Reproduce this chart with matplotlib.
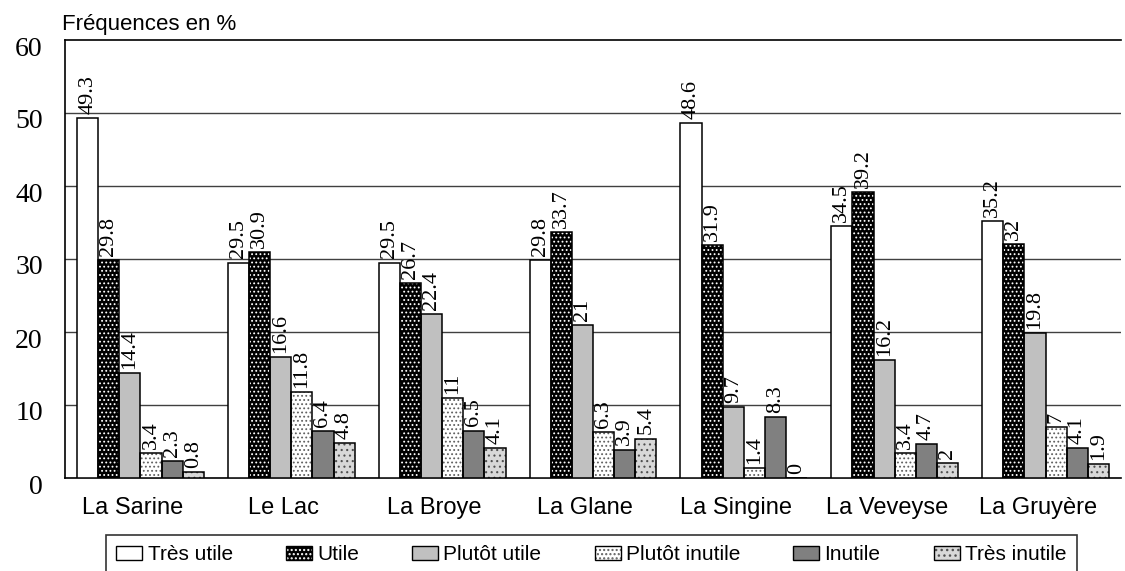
import matplotlib
matplotlib.use("Agg")
import matplotlib.pyplot as plt
import numpy as np
from matplotlib.transforms import ScaledTranslation
from matplotlib.patches import Patch
from matplotlib.legend_handler import HandlerTuple

categories = ["La Sarine", "Le Lac", "La Broye", "La Glane", "La Singine", "La Veveyse", "La Gruyère"]
series_names = ["Très utile", "Utile", "Plutôt utile", "Plutôt inutile", "Inutile", "Très inutile"]
tres_utile = [49.3, 29.5, 29.5, 29.8, 48.6, 34.5, 35.2]
utile = [29.8, 30.9, 26.7, 33.7, 31.9, 39.2, 32]
plutot_utile = [14.4, 16.6, 22.4, 21, 9.7, 16.2, 19.8]
plutot_inutile = [3.4, 11.8, 11, 6.3, 1.4, 3.4, 7]
inutile = [2.3, 6.4, 6.5, 3.9, 8.3, 4.7, 4.1]
tres_inutile = [0.8, 4.8, 4.1, 5.4, 0, 2, 1.9]
yticks = [0, 10, 20, 30, 40, 50, 60]

series = [tres_utile, utile, plutot_utile, plutot_inutile, inutile, tres_inutile]
# (facecolor, hatch, hatchcolor)
styles = [
    ("white", "", "black"),
    ("black", "....", "white"),
    ("#c0c0c0", "", "black"),
    ("white", "....", "#606060"),
    ("#808080", "", "black"),
    ("#d8d8d8", "...", "#505050"),
]

W, H, DPI = 1125, 571, 100
fig = plt.figure(figsize=(W / DPI, H / DPI), dpi=DPI)
left, right, top, bottom = 65, 1121, 40, 478
ax = fig.add_axes([left / W, 1 - bottom / H, (right - left) / W, (bottom - top) / H])

serif = ["Liberation Serif", "DejaVu Serif"]
sans = ["Liberation Sans", "DejaVu Sans"]

x = np.arange(len(categories))
bw = 0.14
handles = []
for i, (vals, (fc, hatch, hc)) in enumerate(zip(series, styles)):
    pos = x + (i - 2.5) * bw
    with plt.rc_context({"hatch.color": hc, "hatch.linewidth": 0.8}):
        ax.bar(pos, vals, bw, color=fc, hatch=hatch, linewidth=0, zorder=3)
    ax.bar(pos, vals, bw, fill=False, edgecolor="black", linewidth=1.1, zorder=4)
    with plt.rc_context({"hatch.color": hc, "hatch.linewidth": 0.8}):
        hp = Patch(facecolor=fc, hatch=hatch, linewidth=0)
    he = Patch(fill=False, edgecolor="black", linewidth=1.0)
    handles.append((hp, he))
    for p, v in zip(pos, vals):
        ax.annotate(f"{v:g}", (p, v), xytext=(0, 3), textcoords="offset points",
                    rotation=90, ha="center", va="bottom", fontsize=16,
                    family=serif, zorder=5)

ax.set_xlim(-0.5, len(categories) - 0.5)
ax.set_ylim(0, 60)
ax.set_yticks(yticks)
ax.set_yticklabels([str(t) for t in yticks], family=serif, fontsize=20)
ax.tick_params(axis="y", length=0, pad=16)
for lab in ax.get_yticklabels():
    lab.set_transform(lab.get_transform() + ScaledTranslation(0, -6 / DPI, fig.dpi_scale_trans))

ax.set_xticks(x)
ax.set_xticklabels(categories, family=sans, fontsize=17)
ax.tick_params(axis="x", length=0, pad=14)
for lab in ax.get_xticklabels():
    lab.set_transform(lab.get_transform() + ScaledTranslation(-8 / DPI, 0, fig.dpi_scale_trans))

for t in yticks[1:-1]:
    ax.axhline(t, color="#404040", linewidth=1.0, zorder=1)

for s in ["left", "top", "bottom"]:
    ax.spines[s].set_color("black")
    ax.spines[s].set_linewidth(1.2)
ax.spines["right"].set_visible(False)

fig.text(62 / W, 1 - 30 / H, "Fréquences en %", family=sans, fontsize=16, va="baseline", ha="left")

leg = fig.legend(handles, series_names, handler_map={tuple: HandlerTuple(ndivide=1, pad=0)},
                 loc="upper left", bbox_to_anchor=(106 / W, 1 - 535 / H), ncol=6,
                 prop={"family": sans, "size": 15}, frameon=True, fancybox=False,
                 edgecolor="black", borderpad=0.5, handlelength=1.25, handleheight=0.6,
                 handletextpad=0.25, columnspacing=2.55, borderaxespad=0)
leg.get_frame().set_linewidth(1.2)

fig.savefig("out.png", dpi=DPI)
